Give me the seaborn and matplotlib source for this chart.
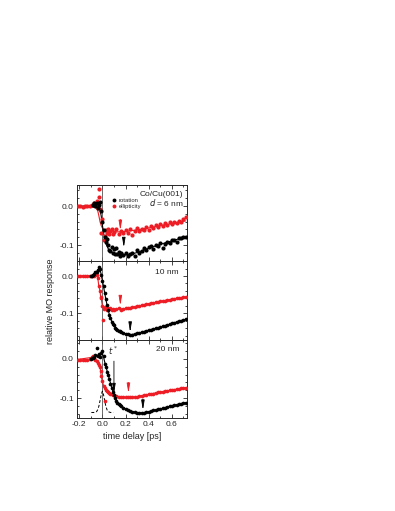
"""Ultrafast MO response of Co/Cu(001) films: rotation vs ellipticity."""
import matplotlib

matplotlib.use("Agg")
import matplotlib.pyplot as plt  # noqa: E402
import seaborn as sns  # noqa: E402
from matplotlib.lines import Line2D  # noqa: E402
from matplotlib.ticker import MultipleLocator  # noqa: E402

RED = "#ee1c24"
BLACK = "#000000"

# --- 6 nm ------------------------------------------------------------------
t6_rot = [-0.08, -0.07, -0.06, -0.05, -0.04, -0.03, -0.02, -0.01, 0.0, 0.01,
          0.02, 0.03, 0.04, 0.05, 0.06, 0.07, 0.08, 0.09, 0.10, 0.11, 0.12,
          0.13, 0.14, 0.15, 0.16, 0.18, 0.20, 0.22, 0.24, 0.26, 0.28, 0.30,
          0.32, 0.34, 0.36, 0.38, 0.40, 0.42, 0.44, 0.46, 0.48, 0.50, 0.52,
          0.54, 0.56, 0.58, 0.60, 0.62, 0.64, 0.66, 0.68, 0.70, 0.72]
rot6 = [0.004, 0.008, 0.0, 0.007, -0.006, 0.003, 0.011, -0.012, -0.04, -0.062,
        -0.078, -0.092, -0.085, -0.1, -0.112, -0.116, -0.104, -0.119, -0.11,
        -0.122, -0.107, -0.124, -0.118, -0.127, -0.121, -0.126, -0.119,
        -0.128, -0.123, -0.121, -0.127, -0.113, -0.12, -0.116, -0.107,
        -0.113, -0.104, -0.103, -0.109, -0.099, -0.101, -0.094, -0.108,
        -0.097, -0.092, -0.095, -0.087, -0.086, -0.091, -0.083, -0.082,
        -0.079, -0.08]
t6_ell = [-0.21, -0.19, -0.17, -0.15, -0.13, -0.11, -0.09, -0.08, -0.07, -0.06,
          -0.05, -0.04, -0.03, -0.025, -0.02, -0.01, 0.0, 0.01, 0.02, 0.03,
          0.04, 0.05, 0.06, 0.07, 0.08, 0.09, 0.10, 0.12, 0.14, 0.16, 0.18,
          0.20, 0.22, 0.24, 0.26, 0.28, 0.30, 0.32, 0.34, 0.36, 0.38, 0.40,
          0.42, 0.44, 0.46, 0.48, 0.50, 0.52, 0.54, 0.56, 0.58, 0.60, 0.62,
          0.64, 0.66, 0.68, 0.70, 0.72]
ell6 = [-0.001, 0.0, -0.002, 0.0, -0.001, 0.001, 0.004, 0.002, 0.009, 0.003,
        0.014, 0.006, 0.022, 0.043, -0.008, -0.07, -0.032, -0.088, -0.076,
        -0.062, -0.07, -0.058, -0.072, -0.064, -0.06, -0.071, -0.066, -0.06,
        -0.072, -0.063, -0.069, -0.061, -0.068, -0.058, -0.075, -0.063,
        -0.055, -0.065, -0.058, -0.061, -0.053, -0.062, -0.05, -0.055,
        -0.048, -0.053, -0.046, -0.05, -0.043, -0.048, -0.041, -0.046, -0.04,
        -0.043, -0.037, -0.04, -0.033, -0.027]
fit6_t = [-0.22, -0.06, -0.04, -0.03, -0.02, -0.01, 0.0, 0.01, 0.02, 0.03,
          0.05, 0.07, 0.1, 0.15, 0.2, 0.25, 0.3, 0.4, 0.5, 0.6, 0.72]
fit6_rot = [0.0, 0.0, -0.001, -0.003, -0.01, -0.025, -0.048, -0.068, -0.084,
            -0.096, -0.109, -0.116, -0.121, -0.124, -0.125, -0.123, -0.119,
            -0.108, -0.098, -0.089, -0.079]
fit6_ell = [-0.002, -0.003, -0.012, -0.025, -0.04, -0.05, -0.056, -0.06,
            -0.062, -0.064, -0.065, -0.066, -0.066, -0.066, -0.065, -0.063,
            -0.061, -0.056, -0.05, -0.045, -0.038]

# --- 10 nm -----------------------------------------------------------------
t10_rot = [-0.10, -0.09, -0.08, -0.07, -0.06, -0.05, -0.04, -0.03, -0.02,
           -0.01, 0.0, 0.01, 0.02, 0.03, 0.04, 0.05, 0.06, 0.07, 0.08, 0.09,
           0.10, 0.11, 0.12, 0.13, 0.14, 0.15, 0.16, 0.18, 0.20, 0.22, 0.24,
           0.26, 0.28, 0.30, 0.32, 0.34, 0.36, 0.38, 0.40, 0.42, 0.44, 0.46,
           0.48, 0.50, 0.52, 0.54, 0.56, 0.58, 0.60, 0.62, 0.64, 0.66, 0.68,
           0.70, 0.72]
rot10 = [0.0, 0.001, 0.003, 0.005, 0.01, 0.012, 0.016, 0.024, 0.02, 0.002,
         -0.012, -0.028, -0.046, -0.062, -0.078, -0.09, -0.104, -0.113,
         -0.122, -0.128, -0.132, -0.138, -0.141, -0.144, -0.147, -0.148,
         -0.151, -0.153, -0.155, -0.156, -0.158, -0.157, -0.156, -0.154,
         -0.152, -0.151, -0.149, -0.148, -0.145, -0.144, -0.142, -0.14,
         -0.138, -0.137, -0.135, -0.133, -0.131, -0.129, -0.127, -0.126,
         -0.124, -0.121, -0.12, -0.118, -0.116]
t10_ell = [-0.21, -0.19, -0.17, -0.15, -0.13, -0.11, -0.09, -0.07, -0.05,
           -0.04, -0.03, -0.02, -0.015, -0.01, 0.0, 0.005, 0.01, 0.02, 0.03,
           0.04, 0.05, 0.06, 0.07, 0.08, 0.09, 0.10, 0.12, 0.14, 0.16, 0.18,
           0.20, 0.22, 0.24, 0.26, 0.28, 0.30, 0.32, 0.34, 0.36, 0.38, 0.40,
           0.42, 0.44, 0.46, 0.48, 0.50, 0.52, 0.54, 0.56, 0.58, 0.60, 0.62,
           0.64, 0.66, 0.68, 0.70, 0.72]
ell10 = [0.0, 0.0, 0.001, 0.0, 0.0, 0.001, 0.0, 0.001, 0.002, -0.004, -0.028,
         -0.04, -0.055, -0.06, -0.08, -0.118, -0.088, -0.083, -0.087, -0.09,
         -0.087, -0.089, -0.086, -0.09, -0.088, -0.091, -0.089, -0.087, -0.09,
         -0.088, -0.087, -0.086, -0.085, -0.084, -0.082, -0.081, -0.079,
         -0.078, -0.077, -0.075, -0.074, -0.073, -0.071, -0.07, -0.069,
         -0.068, -0.066, -0.066, -0.064, -0.063, -0.062, -0.061, -0.06,
         -0.059, -0.058, -0.057, -0.056]
fit10_rot_t = [-0.1, -0.08, -0.06, -0.04, -0.03, -0.02, -0.01, 0.0, 0.01, 0.02,
               0.03, 0.04, 0.06, 0.08, 0.1, 0.13, 0.16, 0.2, 0.25, 0.3, 0.4,
               0.5, 0.6, 0.72]
fit10_rot = [0.0, 0.003, 0.009, 0.016, 0.021, 0.018, 0.004, -0.012, -0.028,
             -0.045, -0.062, -0.077, -0.103, -0.121, -0.132, -0.144, -0.15,
             -0.155, -0.157, -0.154, -0.145, -0.137, -0.127, -0.116]
fit10_ell_t = [-0.22, -0.05, -0.04, -0.03, -0.02, -0.015, -0.01, 0.0, 0.01,
               0.02, 0.04, 0.06, 0.1, 0.15, 0.2, 0.3, 0.4, 0.5, 0.6, 0.72]
fit10_ell = [0.0, 0.002, -0.004, -0.028, -0.04, -0.055, -0.06, -0.08, -0.086,
             -0.085, -0.088, -0.088, -0.089, -0.088, -0.087, -0.081, -0.074,
             -0.068, -0.062, -0.056]

# --- 20 nm -----------------------------------------------------------------
t20_rot = t10_rot
rot20 = [0.0, 0.001, 0.002, 0.004, 0.01, 0.028, 0.006, 0.012, 0.005, 0.014,
         0.02, 0.008, -0.012, -0.022, -0.034, -0.042, -0.05, -0.063, -0.074,
         -0.083, -0.093, -0.1, -0.106, -0.111, -0.114, -0.117, -0.12, -0.124,
         -0.127, -0.13, -0.133, -0.134, -0.136, -0.137, -0.138, -0.137,
         -0.137, -0.135, -0.134, -0.133, -0.131, -0.13, -0.128, -0.127,
         -0.125, -0.124, -0.122, -0.12, -0.119, -0.118, -0.116, -0.115,
         -0.114, -0.112, -0.111]
t20_ell = [-0.21, -0.19, -0.17, -0.15, -0.13, -0.11, -0.09, -0.08, -0.07,
           -0.06, -0.05, -0.04, -0.03, -0.02, -0.015, -0.01, 0.0, 0.01, 0.02,
           0.025, 0.03, 0.04, 0.05, 0.06, 0.07, 0.08, 0.09, 0.10, 0.12, 0.14,
           0.16, 0.18, 0.20, 0.22, 0.24, 0.26, 0.28, 0.30, 0.32, 0.34, 0.36,
           0.38, 0.40, 0.42, 0.44, 0.46, 0.48, 0.50, 0.52, 0.54, 0.56, 0.58,
           0.60, 0.62, 0.64, 0.66, 0.68, 0.70, 0.72]
ell20 = [-0.002, -0.002, -0.003, -0.002, -0.002, -0.001, 0.004, 0.007, 0.002,
         -0.003, -0.005, -0.01, -0.015, -0.02, -0.031, -0.044, -0.057, -0.068,
         -0.074, -0.108, -0.078, -0.081, -0.084, -0.087, -0.088, -0.09, -0.091,
         -0.092, -0.094, -0.096, -0.097, -0.097, -0.098, -0.098, -0.098,
         -0.097, -0.097, -0.096, -0.095, -0.094, -0.093, -0.091, -0.09,
         -0.089, -0.088, -0.087, -0.085, -0.084, -0.083, -0.082, -0.081,
         -0.08, -0.079, -0.078, -0.077, -0.076, -0.075, -0.074, -0.073]
fit20_rot_t = [-0.1, -0.07, -0.05, -0.03, -0.01, 0.0, 0.01, 0.02, 0.04, 0.06,
               0.08, 0.1, 0.12, 0.15, 0.2, 0.25, 0.3, 0.35, 0.4, 0.5, 0.6,
               0.72]
fit20_rot = [0.0, 0.003, 0.008, 0.011, 0.013, 0.012, 0.005, -0.008, -0.03,
             -0.051, -0.072, -0.091, -0.105, -0.117, -0.127, -0.133, -0.137,
             -0.137, -0.134, -0.127, -0.119, -0.111]
fit20_ell_t = [-0.22, -0.08, -0.06, -0.04, -0.02, -0.01, 0.0, 0.01, 0.02, 0.04,
               0.06, 0.08, 0.1, 0.15, 0.2, 0.25, 0.3, 0.4, 0.5, 0.6, 0.72]
fit20_ell = [-0.002, 0.004, -0.003, -0.01, -0.02, -0.044, -0.057, -0.068,
             -0.074, -0.081, -0.087, -0.09, -0.092, -0.096, -0.098, -0.098,
             -0.096, -0.09, -0.084, -0.079, -0.073]
# pump-probe cross-correlation (dashed)
xc_t = [-0.095, -0.07, -0.05, -0.04, -0.03, -0.02, -0.01, 0.0, 0.01, 0.02,
        0.03, 0.04, 0.05, 0.07, 0.095]
xc_y = [-0.136, -0.136, -0.134, -0.129, -0.12, -0.106, -0.091, -0.082,
        -0.091, -0.106, -0.12, -0.129, -0.134, -0.136, -0.136]

labels = ["d = 6 nm", "10 nm", "20 nm"]
ylims = [(-0.141, 0.054), (-0.171, 0.040), (-0.150, 0.048)]
# arrows: (x, y_start, y_end)
red_arrows = [(0.155, -0.034, -0.062), (0.155, -0.064, -0.079),
              (0.225, -0.060, -0.087)]
black_arrows = [(0.185, -0.092, -0.106), (0.24, -0.137, -0.150),
                (0.35, -0.102, -0.130)]

sns.set_style("ticks")
plt.rcParams["font.family"] = ["Liberation Sans", "DejaVu Sans"]
plt.rcParams["axes.unicode_minus"] = False

fig = plt.figure(figsize=(3.95, 5.11), dpi=100)
left, width = 0.194, 0.279
bottoms = [0.489, 0.335, 0.182]
heights = [0.149, 0.154, 0.153]

panels = [
    (t6_rot, rot6, t6_ell, ell6, fit6_t, fit6_rot, fit6_t, fit6_ell),
    (t10_rot, rot10, t10_ell, ell10, fit10_rot_t, fit10_rot, fit10_ell_t,
     fit10_ell),
    (t20_rot, rot20, t20_ell, ell20, fit20_rot_t, fit20_rot, fit20_ell_t,
     fit20_ell),
]
arrow_kw = dict(arrowstyle="-|>,head_length=0.7,head_width=0.12", lw=0.6,
                mutation_scale=8, shrinkA=0, shrinkB=0)

axes = []
for i, (tr, r, te, e, ftr, fr, fte, fe) in enumerate(panels):
    ax = fig.add_axes([left, bottoms[i], width, heights[i]])
    axes.append(ax)
    ax.axvline(0, color="#555555", lw=0.6, zorder=1)
    sns.lineplot(x=fte, y=fe, ax=ax, color=RED, lw=0.8, estimator=None,
                 zorder=2)
    sns.lineplot(x=ftr, y=fr, ax=ax, color=BLACK, lw=0.8, estimator=None,
                 zorder=2)
    size = 9 if i == 0 else 7
    sns.scatterplot(x=te, y=e, ax=ax, color=RED, s=size, linewidth=0,
                    zorder=3)
    sns.scatterplot(x=tr, y=r, ax=ax, color=BLACK, s=size, linewidth=0,
                    zorder=4)

    x, y0, y1 = red_arrows[i]
    ax.annotate("", xy=(x, y1), xytext=(x, y0), zorder=5,
                arrowprops=dict(color=RED, **arrow_kw))
    x, y0, y1 = black_arrows[i]
    ax.annotate("", xy=(x, y1), xytext=(x, y0), zorder=5,
                arrowprops=dict(color=BLACK, **arrow_kw))

    ax.set_xlim(-0.222, 0.729)
    ax.set_ylim(*ylims[i])
    ax.xaxis.set_major_locator(MultipleLocator(0.2))
    ax.xaxis.set_minor_locator(MultipleLocator(0.1))
    ax.yaxis.set_major_locator(MultipleLocator(0.1))
    ax.yaxis.set_minor_locator(MultipleLocator(0.02))
    ax.yaxis.set_major_formatter(matplotlib.ticker.FormatStrFormatter("%.1f"))
    ax.tick_params(which="both", direction="in", top=True, right=True,
                   width=0.6, labelsize=6, pad=2)
    ax.tick_params(which="major", length=3)
    ax.tick_params(which="minor", length=1.6)
    ax.set_xlabel("")
    ax.set_ylabel("")
    for s in ax.spines.values():
        s.set_linewidth(0.7)
    if i < 2:
        ax.tick_params(labelbottom=False)

# panel texts
axes[0].text(0.97, 0.87, "Co/Cu(001)", transform=axes[0].transAxes,
             ha="right", va="center", fontsize=6)
axes[0].text(0.97, 0.77, r"$d$ = 6 nm", transform=axes[0].transAxes,
             ha="right", va="center", fontsize=6)
axes[1].text(0.93, 0.86, labels[1], transform=axes[1].transAxes,
             ha="right", va="center", fontsize=6)
axes[2].text(0.93, 0.88, labels[2], transform=axes[2].transAxes,
             ha="right", va="center", fontsize=6)

handles = [
    Line2D([], [], ls="none", marker="o", ms=2.8, color=BLACK, mew=0),
    Line2D([], [], ls="none", marker="o", ms=2.8, color=RED, mew=0),
]
axes[0].legend(handles, ["rotation", "ellipticity"], loc="upper left",
               bbox_to_anchor=(0.29, 0.87), frameon=False, fontsize=4.2,
               handlelength=0.8, handletextpad=0.4, labelspacing=0.15,
               borderpad=0.1)

# bottom panel extras
sns.lineplot(x=xc_t, y=xc_y, ax=axes[2], color=BLACK, lw=0.7, ls=(0, (3, 2)),
             estimator=None, zorder=2)
axes[2].annotate("", xy=(0.1, -0.088), xytext=(0.1, -0.006), zorder=5,
                 arrowprops=dict(color=BLACK, **arrow_kw))
axes[2].text(0.093, 0.004, r"$t^*$", ha="center", va="bottom", fontsize=6)

axes[2].set_xlabel("time delay [ps]", fontsize=6.5, labelpad=3)
fig.text(0.127, 0.41, "relative MO response", rotation=90, ha="center",
         va="center", fontsize=6.5)

fig.savefig("out.png", dpi=100)
